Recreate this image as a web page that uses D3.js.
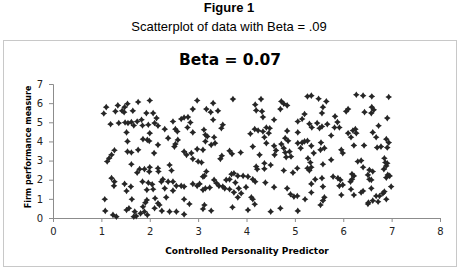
<!DOCTYPE html>
<html>
<head>
<meta charset="utf-8">
<script src="https://cdn.jsdelivr.net/npm/d3@7"></script>
<style>
body { margin: 0; background: white; }
</style>
</head>
<body>
<div id="canvas"></div>
<script>
var w = 459;
var h = 269;

var figTitle = "Figure 1";
var figSubtitle = "Scatterplot of data with Beta = .09";
var chartTitle = "Beta = 0.07";
var xTitle = "Controlled Personality Predictor";
var yTitle = "Firm performance measure";
var xTicks = [0, 1, 2, 3, 4, 5, 6, 7, 8];
var yTicks = [0, 1, 2, 3, 4, 5, 6, 7];

// predictor (x), performance (y)
var points = [
	[1.10,5.79],[1.05,5.46],[1.34,5.88],[1.29,5.57],[1.43,5.60],[1.54,5.97],[1.48,5.79],[1.47,5.53],[1.65,5.60],[1.76,6.06],[1.93,5.48],
	[1.19,4.90],[1.36,4.96],[1.49,4.99],[1.55,4.96],[1.62,5.01],[1.67,4.83],[1.74,5.04],[1.83,5.13],[1.85,4.83],[1.52,4.47],
	[1.54,4.00],[1.86,4.12],[1.27,3.54],[1.21,3.30],[1.16,3.12],[1.12,2.95],[1.54,3.47],[1.62,3.42],[1.76,3.56],
	[1.62,2.81],[1.79,2.55],[1.74,2.37],[1.89,2.55],[1.21,2.08],[1.27,1.90],[1.26,1.68],[1.48,1.78],[1.61,1.64],[1.85,1.90],[1.52,1.41],
	[1.07,0.98],[1.63,0.98],[1.91,0.80],[1.86,0.59],[1.08,0.37],[1.24,0.16],[1.31,0.07],[1.52,0.42],[1.57,0.51],[1.69,0.33],[1.72,0.10],[1.67,0.07],[1.81,0.24],[1.89,0.33],
	[1.97,4.87],[1.95,4.08],[1.99,4.02],[1.99,2.42],[1.97,1.84],[1.94,1.47],[1.94,0.94],[1.95,0.16],
	[2.00,6.14],[2.98,6.14],
	[2.07,5.48],[2.14,5.22],[2.10,4.96],[2.17,4.82],[2.31,4.64],[2.48,5.04],[2.53,4.64],[2.57,4.52],[2.65,5.17],[2.71,5.25],[2.79,5.27],[2.84,4.99],[2.78,4.73],[2.89,5.69],[2.89,4.47],[2.00,4.43],
	[2.38,4.17],[2.58,4.08],[2.53,3.86],[2.51,3.73],[2.17,3.82],[2.09,3.39],[2.71,3.47],[2.76,3.30],[2.86,3.39],[2.89,3.09],[2.98,3.60],[3.00,2.95],
	[2.00,2.65],[2.17,2.60],[2.18,2.43],[2.41,2.77],[2.45,2.48],
	[2.27,2.02],[2.24,1.90],[2.38,1.90],[2.48,1.90],[2.55,1.68],[2.65,1.68],[2.71,1.64],[2.05,1.76],[2.07,1.50],[2.31,1.55],[2.48,1.43],[2.89,1.78],[2.98,1.68],[3.03,1.78],
	[2.11,1.03],[2.34,1.08],[2.71,0.98],[2.17,0.77],[2.20,0.68],[2.82,0.73],
	[2.10,0.51],[2.25,0.37],[2.41,0.33],[2.55,0.33],[2.71,0.19],
	[3.31,6.00],[3.72,6.21],
	[3.17,5.69],[3.26,5.53],[3.41,5.60],[3.31,5.13],[3.51,4.87],[3.48,4.69],[3.12,4.61],[3.15,4.35],[3.19,4.26],[3.33,4.22],[3.15,4.00],[3.27,3.82],[3.35,3.91],[3.10,3.56],
	[3.65,3.51],[3.70,3.35],[3.88,3.42],[3.49,3.25],[3.46,3.09],[3.07,2.90],
	[3.17,2.43],[3.13,2.20],[3.10,2.16],[3.69,2.29],[3.74,2.34],[3.82,2.20],[3.93,2.20],[4.03,2.16],
	[3.33,1.99],[3.38,1.82],[3.58,1.99],[3.65,2.02],[3.77,1.85],[3.15,1.55],[3.24,1.59],[3.10,1.47],[3.43,1.68],[3.51,1.64],[3.55,1.55],[3.65,1.50],[3.74,1.34],[3.84,1.55],[3.89,1.29],[3.82,1.08],[3.99,1.61],
	[3.13,0.68],[3.10,0.47],[3.27,0.38],[3.71,0.56],[4.03,0.42],
	[4.30,6.21],[4.18,5.92],[4.20,5.62],[4.32,5.57],[4.72,6.09],[4.77,5.97],[4.84,5.88],[4.70,5.69],
	[4.34,5.27],[4.57,5.13],[5.06,5.04],[4.08,4.40],[4.17,4.64],[4.24,4.57],[4.34,4.52],[4.41,4.73],[4.48,4.69],[4.46,4.43],[4.37,4.22],[4.41,3.91],[4.84,4.55],[5.06,4.47],[4.80,4.17],[4.86,4.03],[5.06,3.91],[4.13,3.73],
	[4.57,3.77],[4.61,3.53],[4.58,3.30],[4.72,3.86],[4.77,3.65],[4.80,3.42],[4.89,3.47],[4.92,3.21],[4.82,3.18],[4.27,3.30],
	[4.20,2.69],[4.22,2.55],[4.37,2.86],[4.50,2.77],[4.37,2.57],[4.77,2.48],[4.96,2.37],[5.05,2.60],
	[4.13,2.02],[4.18,1.90],[4.39,1.85],[4.57,1.61],[4.84,1.55],[4.91,1.24],[4.98,1.12],[5.05,1.15],
	[4.10,1.08],[4.13,0.98],[4.17,0.72],[4.70,0.51],[4.50,0.33],[5.06,0.37],
	[5.26,6.35],[5.34,6.39],[5.49,6.23],[5.65,6.09],[5.58,5.79],[5.56,5.48],[5.20,5.43],[5.15,5.17],[5.30,4.92],[5.35,4.73],[5.46,4.96],[5.51,4.69],[5.56,4.78],[5.67,4.90],[5.83,5.31],[5.88,5.01],[5.82,4.73],[5.92,4.73],[6.06,5.57],[6.10,5.69],
	[5.15,3.94],[5.20,4.00],[5.26,4.03],[5.34,3.77],[5.12,3.65],[5.54,3.94],[5.61,3.65],[5.53,3.56],[5.75,4.31],[5.39,3.39],[5.96,3.56],[5.99,3.39],[6.10,4.43],
	[5.27,3.12],[5.32,2.90],[5.26,2.60],[5.34,2.65],[5.30,2.48],[5.58,2.81],[5.75,3.04],
	[5.42,2.02],[5.34,1.78],[5.56,2.08],[5.58,1.64],[5.79,2.16],[5.89,2.08],[5.94,1.99],[5.92,1.68],[5.99,1.73],
	[5.34,1.33],[5.21,0.98],[5.61,1.08],[5.58,0.91],[5.53,0.68],[5.96,1.20],
	[6.27,6.44],[6.41,6.39],[6.59,6.35],[6.94,6.32],[6.44,5.53],[6.59,5.79],[6.63,5.65],[6.58,5.48],[6.91,5.22],
	[6.73,4.82],[6.61,4.47],[6.68,4.22],[6.20,4.57],[6.25,4.64],[6.27,4.43],[6.16,4.22],[6.89,4.12],[6.94,3.94],[6.70,3.68],[6.78,3.73],[6.91,3.68],[6.22,3.79],[6.43,3.79],
	[6.37,3.00],[6.30,2.95],[6.41,2.65],[6.61,2.43],[6.85,3.12],[6.87,2.90],[6.89,2.72],[6.91,2.86],[6.84,2.55],[6.54,2.51],
	[6.18,2.30],[6.22,2.20],[6.18,2.02],[6.51,2.25],[6.54,2.02],[6.58,1.99],[6.92,2.25],[6.89,2.11],[6.96,2.20],[6.15,1.90],
	[6.16,1.50],[6.22,1.20],[6.41,1.41],[6.37,1.33],[6.58,1.55],[6.85,1.38],[6.82,1.29],[6.99,1.64],[6.75,1.15],[6.68,1.15],
	[6.52,0.80],[6.61,0.91],[6.72,0.85],[6.51,0.73],[6.89,0.98]
];

var svg = d3.select("#canvas").append("svg")
	.attr("width", w)
	.attr("height", h)
	.style("display", "block")
	.style("background-color", "white");

// titles above the chart box
svg.append("text")
	.attr("x", 229)
	.attr("y", 12)
	.attr("text-anchor", "middle")
	.style("font-family", "Liberation Sans, Arial, sans-serif")
	.style("font-weight", "bold")
	.style("font-size", "13px")
	.text(figTitle);

svg.append("text")
	.attr("x", 229)
	.attr("y", 31)
	.attr("text-anchor", "middle")
	.style("font-family", "Liberation Sans, Arial, sans-serif")
	.style("font-size", "13px")
	.text(figSubtitle);

// chart box
svg.append("rect")
	.attr("x", 3.5)
	.attr("y", 40.5)
	.attr("width", 453)
	.attr("height", 226)
	.attr("fill", "white")
	.attr("stroke", "#c8c8c8");

svg.append("text")
	.attr("x", 230)
	.attr("y", 65)
	.attr("text-anchor", "middle")
	.style("font-family", "DejaVu Sans, sans-serif")
	.style("font-weight", "bold")
	.style("font-size", "15.5px")
	.text(chartTitle);

var xScale = d3.scaleLinear()
	.domain([0, 8])
	.range([53, 440]);

var yScale = d3.scaleLinear()
	.domain([0, 7])
	.range([218, 84]);

var xAxis = svg.append("g")
	.attr("transform", "translate(0," + yScale(0) + ")")
	.call(d3.axisBottom(xScale).tickValues(xTicks).tickSize(4).tickPadding(6).tickFormat(d3.format("d")));

var yAxis = svg.append("g")
	.attr("transform", "translate(" + xScale(0) + ",0)")
	.call(d3.axisLeft(yScale).tickValues(yTicks).tickSize(4).tickPadding(6).tickFormat(d3.format("d")));

svg.selectAll(".domain").attr("stroke", "#8c8c8c");
svg.selectAll(".tick line").attr("stroke", "#8c8c8c");
svg.selectAll(".tick text")
	.style("font-family", "DejaVu Sans, sans-serif")
	.style("font-size", "10px")
	.attr("fill", "#222");

svg.append("text")
	.attr("x", 247)
	.attr("y", 254)
	.attr("text-anchor", "middle")
	.style("font-family", "DejaVu Sans, sans-serif")
	.style("font-weight", "bold")
	.style("font-size", "9px")
	.text(xTitle);

svg.append("text")
	.attr("transform", "translate(31,147) rotate(-90)")
	.attr("text-anchor", "middle")
	.style("font-family", "DejaVu Sans, sans-serif")
	.style("font-weight", "bold")
	.style("font-size", "8px")
	.text(yTitle);

// 4-point star marker like the excel one
var star4 = {
	draw: function(ctx, size) {
		var r = Math.sqrt(size) / 2;
		var q = r * 0.4;
		ctx.moveTo(0, -r);
		ctx.lineTo(q, -q);
		ctx.lineTo(r, 0);
		ctx.lineTo(q, q);
		ctx.lineTo(0, r);
		ctx.lineTo(-q, q);
		ctx.lineTo(-r, 0);
		ctx.lineTo(-q, -q);
		ctx.closePath();
	}
};

svg.selectAll("path.pt")
	.data(points)
	.join("path")
	.attr("class", "pt")
	.attr("transform", function(d) {
		return "translate(" + xScale(d[0]) + "," + yScale(d[1]) + ")";
	})
	.attr("d", d3.symbol().type(star4).size(44))
	.attr("fill", "#262626");
</script>
</body>
</html>
